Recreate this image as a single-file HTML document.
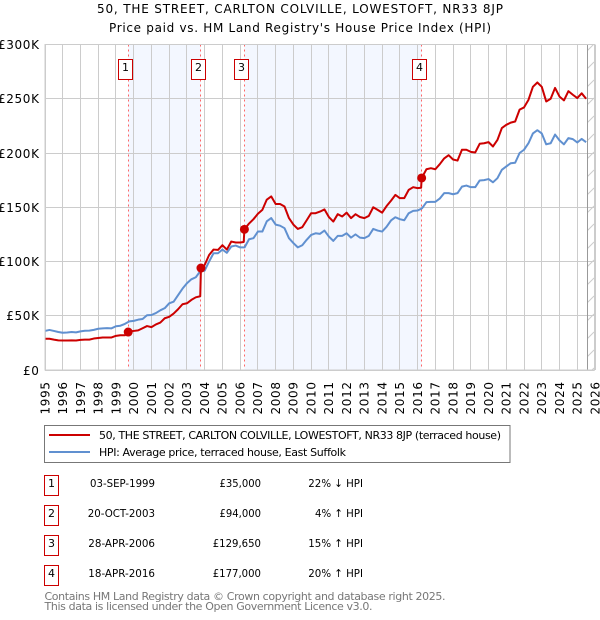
<!DOCTYPE html>
<html lang="en">
<head>
<meta charset="utf-8">
<title>50, THE STREET, CARLTON COLVILLE, LOWESTOFT, NR33 8JP</title>
<style>
html,body{margin:0;padding:0;background:#fff;width:600px;height:620px;overflow:hidden}
svg{display:block}
text{font-family:"DejaVu Sans","Liberation Sans",sans-serif;fill:#000}
</style>
</head>
<body>
<svg id="chart" xmlns="http://www.w3.org/2000/svg" width="600" height="620" viewBox="0 0 600 620">
  <defs>
    <pattern id="hatch" patternUnits="userSpaceOnUse" width="9" height="18" y="44">
      <path d="M0 9 L9 0 M0 27 L9 18" stroke="#ccc" stroke-width="1" fill="none"/>
    </pattern>
  </defs>
  <text x="300" y="13" font-size="12" text-anchor="middle" textLength="406" lengthAdjust="spacing">50, THE STREET, CARLTON COLVILLE, LOWESTOFT, NR33 8JP</text>
  <text x="300" y="32" font-size="12" text-anchor="middle" textLength="382" lengthAdjust="spacing">Price paid vs. HM Land Registry's House Price Index (HPI)</text>
  <g id="plot"></g>

  <g>
    <rect x="44.5" y="425.5" width="465.5" height="37" fill="#fff" stroke="#777" stroke-width="1"/>
    <line x1="49" x2="90" y1="435" y2="435" stroke="#c00" stroke-width="2"/>
    <text x="99" y="439" font-size="11" textLength="402" lengthAdjust="spacing">50, THE STREET, CARLTON COLVILLE, LOWESTOFT, NR33 8JP (terraced house)</text>
    <line x1="49" x2="90" y1="452" y2="452" stroke="#6090d0" stroke-width="2"/>
    <text x="99" y="456" font-size="11" textLength="247" lengthAdjust="spacing">HPI: Average price, terraced house, East Suffolk</text>
  </g>

  <g font-size="11">
    <g>
      <rect x="44.5" y="475.5" width="14" height="20" fill="#fff" stroke="#c00"/>
      <text x="51.5" y="487" text-anchor="middle">1</text>
      <text x="155" y="487" text-anchor="end" textLength="65" lengthAdjust="spacingAndGlyphs">03-SEP-1999</text>
      <text x="261" y="487" text-anchor="end" textLength="41.5" lengthAdjust="spacingAndGlyphs">£35,000</text>
      <text x="363" y="487" text-anchor="end" textLength="54.7" lengthAdjust="spacingAndGlyphs">22% ↓ HPI</text>
    </g>
    <g>
      <rect x="44.5" y="505.5" width="14" height="20" fill="#fff" stroke="#c00"/>
      <text x="51.5" y="517" text-anchor="middle">2</text>
      <text x="155" y="517" text-anchor="end" textLength="67.3" lengthAdjust="spacingAndGlyphs">20-OCT-2003</text>
      <text x="261" y="517" text-anchor="end" textLength="41.5" lengthAdjust="spacingAndGlyphs">£94,000</text>
      <text x="363" y="517" text-anchor="end" textLength="48" lengthAdjust="spacingAndGlyphs">4% ↑ HPI</text>
    </g>
    <g>
      <rect x="44.5" y="535.5" width="14" height="20" fill="#fff" stroke="#c00"/>
      <text x="51.5" y="547" text-anchor="middle">3</text>
      <text x="155" y="547" text-anchor="end" textLength="66.7" lengthAdjust="spacingAndGlyphs">28-APR-2006</text>
      <text x="261" y="547" text-anchor="end" textLength="48.3" lengthAdjust="spacingAndGlyphs">£129,650</text>
      <text x="363" y="547" text-anchor="end" textLength="54.7" lengthAdjust="spacingAndGlyphs">15% ↑ HPI</text>
    </g>
    <g>
      <rect x="44.5" y="565.5" width="14" height="20" fill="#fff" stroke="#c00"/>
      <text x="51.5" y="577" text-anchor="middle">4</text>
      <text x="155" y="577" text-anchor="end" textLength="66.7" lengthAdjust="spacingAndGlyphs">18-APR-2016</text>
      <text x="261" y="577" text-anchor="end" textLength="48.3" lengthAdjust="spacingAndGlyphs">£177,000</text>
      <text x="363" y="577" text-anchor="end" textLength="54.7" lengthAdjust="spacingAndGlyphs">20% ↑ HPI</text>
    </g>
  </g>

  <text x="44.5" y="600" font-size="11" style="fill:#777" textLength="401" lengthAdjust="spacing">Contains HM Land Registry data © Crown copyright and database right 2025.</text>
  <text x="44.5" y="610" font-size="11" style="fill:#777" textLength="328" lengthAdjust="spacing">This data is licensed under the Open Government Licence v3.0.</text>
</svg>
<script>
const xTickYears = [1995,1996,1997,1998,1999,2000,2001,2002,2003,2004,2005,2006,2007,2008,2009,2010,2011,2012,2013,2014,2015,2016,2017,2018,2019,2020,2021,2022,2023,2024,2025,2026];
const yTickValues = [0,50,100,150,200,250,300];
const yTickLabels = ['£0','£50K','£100K','£150K','£200K','£250K','£300K'];
const dataEndYear = 2025.6;

const saleDates = [1999.69,2003.79,2006.24,2016.23];
const salePrices = [35,94,129.65,177];
const saleLabels = ['1','2','3','4'];

const hpiDates = [
1995,1995.25,1995.5,1995.75,1996,1996.25,1996.5,1996.75,1997,1997.25,1997.5,1997.75,
1998,1998.25,1998.5,1998.75,1999,1999.25,1999.5,1999.75,2000,2000.25,2000.5,2000.75,
2001,2001.25,2001.5,2001.75,2002,2002.25,2002.5,2002.75,2003,2003.25,2003.5,2003.75,
2004,2004.25,2004.5,2004.75,2005,2005.25,2005.5,2005.75,2006,2006.25,2006.5,2006.75,
2007,2007.25,2007.5,2007.75,2008,2008.25,2008.5,2008.75,2009,2009.25,2009.5,2009.75,
2010,2010.25,2010.5,2010.75,2011,2011.25,2011.5,2011.75,2012,2012.25,2012.5,2012.75,
2013,2013.25,2013.5,2013.75,2014,2014.25,2014.5,2014.75,2015,2015.25,2015.5,2015.75,
2016,2016.25,2016.5,2016.75,2017,2017.25,2017.5,2017.75,2018,2018.25,2018.5,2018.75,
2019,2019.25,2019.5,2019.75,2020,2020.25,2020.5,2020.75,2021,2021.25,2021.5,2021.75,
2022,2022.25,2022.5,2022.75,2023,2023.25,2023.5,2023.75,2024,2024.25,2024.5,2024.75,
2025,2025.25,2025.5];
const hpiValues = [
36,36.9,36,35,34.3,34.6,35,34.7,35.6,36.2,36.3,37,
38,38.4,38.6,38.4,40.3,40.8,42.5,44.8,45.3,46.4,47,50.5,
50.7,52.5,55,57,61.5,63,69,75,80,83.6,85.5,91,
91.6,100,107.6,107.6,111,108,113.8,114.7,113,113,120.5,121.5,
127.6,127.6,137,140,134,133,130.7,121.5,117,113,115,120,
124.5,126,125.5,128.5,123,119,123.6,123.6,126,122,125,122,
121.5,123.6,130,128.5,127.6,132,137.8,140.8,139,138,144.5,146.7,
147,149,154.7,155,155,158,163,163,162,163,169,170,
168.5,168.5,174.7,175,176,173,176.8,184.5,187.6,190.6,191,200,
203,209,218,221,218,208,209,217,211.6,208,213.7,212.8,
209.7,213,210];

const paidDates = [
1995,1995.25,1995.5,1995.75,1996,1996.25,1996.5,1996.75,1997,1997.25,1997.5,1997.75,
1998,1998.25,1998.5,1998.75,1999,1999.25,1999.5,1999.69,1999.75,2000,2000.25,2000.5,2000.75,
2001,2001.25,2001.5,2001.75,2002,2002.25,2002.5,2002.75,2003,2003.25,2003.5,2003.75,2003.79,
2004,2004.25,2004.5,2004.75,2005,2005.25,2005.5,2005.75,2006,2006.2,2006.24,2006.5,2006.75,
2007,2007.25,2007.5,2007.75,2008,2008.25,2008.5,2008.75,2009,2009.25,2009.5,2009.75,
2010,2010.25,2010.5,2010.75,2011,2011.25,2011.5,2011.75,2012,2012.25,2012.5,2012.75,
2013,2013.25,2013.5,2013.75,2014,2014.25,2014.5,2014.75,2015,2015.25,2015.5,2015.75,
2016,2016.2,2016.23,2016.5,2016.75,2017,2017.25,2017.5,2017.75,2018,2018.25,2018.5,2018.75,
2019,2019.25,2019.5,2019.75,2020,2020.25,2020.5,2020.75,2021,2021.25,2021.5,2021.75,
2022,2022.25,2022.5,2022.75,2023,2023.25,2023.5,2023.75,2024,2024.25,2024.5,2024.75,
2025,2025.25,2025.5];
const paidValues = [
28.8,28.8,28,27.3,27.2,27.2,27.3,27.2,27.8,28,28,29,
29.5,30,30,30,31.5,32,32,35,35.5,36,36.5,38.5,40.5,
39.5,42,43.7,47.7,49,52,56,60.6,61.5,64.6,67,68,94,
96.9,106,111,110.7,115,111,118.4,117.5,117.5,118,129.65,135,139,
144,147.6,157,160,153,153,150.7,140,134,130,131.6,138,
144.5,144.5,146,148,141,136.8,143.6,141.5,145,140,143.6,141,
140,142,150,147.6,145,151,156,161.4,158.4,158.4,166,168.5,
167.6,168,177,185,186,185,189.7,195,198,194,193,203,203,
201,200.5,208.5,209,210,206,212,223,226,228,229,240,
242,249,261,265,261,247.5,250,260,252,248.5,257,253.7,
250.6,255,250];

const SVG_NS = 'http://www.w3.org/2000/svg';
const plot = document.getElementById('plot');
const plotLeft = 45, plotRight = 594.5, plotTop = 44.5, plotBottom = 370;
const xMin = 1995, xMax = 2026, yMax = 300;
function xScale(year) { return plotLeft + (year - xMin) / (xMax - xMin) * (595 - plotLeft); }
function yScale(value) { return plotBottom - value / yMax * (plotBottom - plotTop); }
function crisp(v) { return Math.floor(v) + 0.5; }
function make(tag, attrs) {
  const el = document.createElementNS(SVG_NS, tag);
  for (const k in attrs) el.setAttribute(k, attrs[k]);
  plot.appendChild(el);
  return el;
}

// shaded ownership bands
for (let i = 0; i + 1 < saleDates.length; i += 2) {
  const band = make('rect', {x: xScale(saleDates[i]), y: plotTop, width: xScale(saleDates[i + 1]) - xScale(saleDates[i]), height: plotBottom - plotTop, fill: '#f3f7ff'});
  
  
}

// horizontal gridlines and y labels
yTickValues.forEach(function (v, i) {
  const y = crisp(yScale(v));
  const grid = make('line', {x1: plotLeft, x2: plotRight, y1: y, y2: y, stroke: '#ccc', 'stroke-width': 1});
  
  
  const label = make('text', {x: 39.6, y: y + 4.5, 'font-size': 12, 'letter-spacing': 0.65, 'text-anchor': 'end'});
  label.textContent = yTickLabels[i];
  
  
});

// vertical gridlines and x labels
xTickYears.forEach(function (yr) {
  const x = crisp(xScale(yr));
  const grid = make('line', {x1: x, x2: x, y1: plotTop, y2: plotBottom, stroke: '#ccc', 'stroke-width': 1});
  
  
  const tx = xScale(yr) + 4.3;
  const label = make('text', {x: tx, y: 414.5, 'font-size': 12, 'letter-spacing': 0.65, transform: 'rotate(-90 ' + tx + ' 414.5)'});
  label.textContent = yr;
  
  
});

// future hatch
const hatchX = xScale(dataEndYear);
const hatchRect = make('rect', {x: hatchX, y: plotTop, width: plotRight - hatchX, height: plotBottom - plotTop, fill: 'url(#hatch)'});


const endLine = make('line', {x1: crisp(hatchX), x2: crisp(hatchX), y1: plotTop, y2: plotBottom, stroke: '#999', 'stroke-width': 1});



// sale marker lines
saleDates.forEach(function (d) {
  const x = crisp(xScale(d));
  const line = make('line', {x1: x, x2: x, y1: plotTop, y2: plotBottom, stroke: '#f66', 'stroke-width': 1, 'stroke-dasharray': '2 3'});
  
  
});

function pathFrom(dates, values) {
  return dates.map(function (d, i) { return (i ? 'L' : 'M') + xScale(d).toFixed(2) + ' ' + yScale(values[i]).toFixed(2); }).join(' ');
}
const hpiLine = make('path', {d: pathFrom(hpiDates, hpiValues), fill: 'none', stroke: '#6090d0', 'stroke-width': 2, 'stroke-linejoin': 'round'});


const paidLine = make('path', {d: pathFrom(paidDates, paidValues), fill: 'none', stroke: '#c00', 'stroke-width': 2, 'stroke-linejoin': 'round'});



// sale points and number badges
saleDates.forEach(function (d, i) {
  const cx = xScale(d);
  const dot = make('circle', {cx: cx, cy: yScale(salePrices[i]), r: 4.5, fill: '#c00'});
  
  
  const bx = Math.round(cx - 3 - 7) + 0.5;
  const box = make('rect', {x: bx, y: 59.5, width: 14, height: 20, fill: '#fff', stroke: '#c00', 'stroke-width': 1});
  
  
  const num = make('text', {x: bx + 7, y: 71, 'font-size': 11, 'text-anchor': 'middle'});
  num.textContent = saleLabels[i];
  
  
});

// plot border
const border = make('rect', {x: plotLeft, y: plotTop, width: plotRight - plotLeft, height: plotBottom - plotTop, fill: 'none', stroke: '#ccc', 'stroke-width': 1});


</script>
</body>
</html>
